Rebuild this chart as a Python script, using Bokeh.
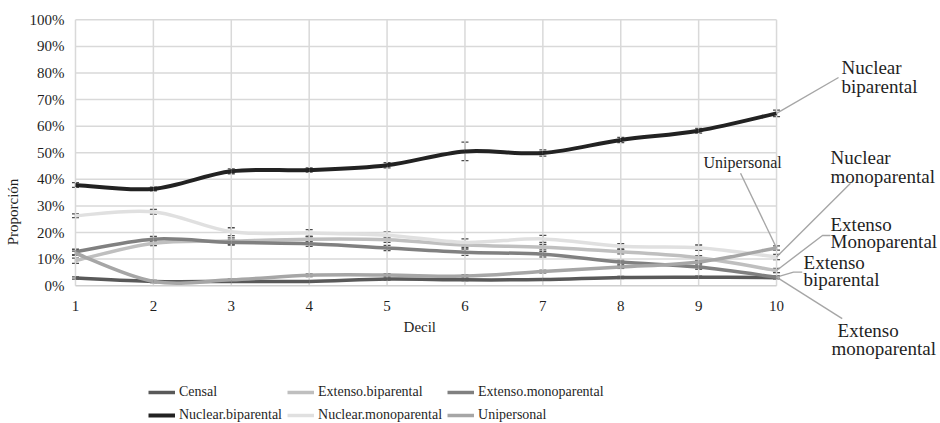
from bokeh.plotting import figure
from bokeh.models import (ColumnDataSource, Whisker, TeeHead, Legend, LegendItem,
                          FixedTicker, PrintfTickFormatter, Range1d)
from bokeh.embed import file_html
from bokeh.resources import INLINE

# ---- data: share of household type (%) by income decile, with error margins ----
deciles = [1, 2, 3, 4, 5, 6, 7, 8, 9, 10]
censal = [2.9, 1.6, 1.6, 1.6, 2.5, 2.2, 2.3, 3.1, 3.2, 3.0]
extenso_biparental = [9.4, 16.0, 16.8, 17.5, 17.3, 15.3, 14.5, 12.8, 10.5, 5.7]
extenso_monoparental = [12.7, 17.5, 16.3, 15.8, 14.2, 12.6, 11.8, 8.9, 7.0, 3.2]
nuclear_biparental = [37.9, 36.4, 43.0, 43.5, 45.3, 50.5, 49.9, 54.8, 58.3, 64.8]
nuclear_monoparental = [26.3, 27.8, 20.3, 19.8, 19.0, 16.3, 17.6, 14.8, 14.3, 10.8]
unipersonal = [12.2, 1.6, 2.2, 3.9, 4.0, 3.6, 5.3, 7.0, 8.9, 14.2]

censal_err = [0.4, 0.3, 0.3, 0.3, 0.4, 0.3, 0.3, 0.4, 0.4, 0.4]
extenso_biparental_err = [1.0, 0.9, 1.2, 1.0, 1.0, 1.0, 1.0, 0.8, 0.8, 0.8]
extenso_monoparental_err = [1.0, 1.0, 1.0, 1.0, 1.0, 1.2, 1.0, 0.8, 0.8, 0.5]
nuclear_biparental_err = [0.9, 0.7, 0.9, 0.8, 1.0, 3.5, 1.2, 1.0, 0.9, 1.2]
nuclear_monoparental_err = [0.7, 0.9, 1.5, 1.3, 1.2, 1.3, 1.3, 1.0, 1.0, 1.0]
unipersonal_err = [0.8, 0.4, 0.4, 0.5, 0.5, 0.5, 0.5, 0.5, 0.5, 0.8]

y_ticks = [0, 10, 20, 30, 40, 50, 60, 70, 80, 90, 100]

series = [
    ("Censal", censal, censal_err, "#595959", 3.5),
    ("Extenso.biparental", extenso_biparental, extenso_biparental_err, "#bfbfbf", 3.5),
    ("Extenso.monoparental", extenso_monoparental, extenso_monoparental_err, "#808080", 3.5),
    ("Nuclear.biparental", nuclear_biparental, nuclear_biparental_err, "#222222", 4),
    ("Nuclear.monoparental", nuclear_monoparental, nuclear_monoparental_err, "#e0e0e0", 3.5),
    ("Unipersonal", unipersonal, unipersonal_err, "#a6a6a6", 3.5),
]

SERIF = "Liberation Serif"
TEXT = "#1f1f1f"
GRID = "#d9d9d9"


def smooth_segments(xs, ys):
    """Cubic Bezier pieces (Catmull-Rom style) through the data points."""
    n = len(xs)
    out = dict(x0=[], y0=[], x1=[], y1=[], cx0=[], cy0=[], cx1=[], cy1=[])
    for i in range(n - 1):
        xp, yp = (xs[i - 1], ys[i - 1]) if i > 0 else (xs[i], ys[i])
        xn, yn = (xs[i + 2], ys[i + 2]) if i + 2 < n else (xs[i + 1], ys[i + 1])
        out["x0"].append(xs[i]); out["y0"].append(ys[i])
        out["x1"].append(xs[i + 1]); out["y1"].append(ys[i + 1])
        out["cx0"].append(xs[i] + (xs[i + 1] - xp) / 6)
        out["cy0"].append(ys[i] + (ys[i + 1] - yp) / 6)
        out["cx1"].append(xs[i + 1] - (xn - xs[i]) / 6)
        out["cy1"].append(ys[i + 1] - (yn - ys[i]) / 6)
    return out


p = figure(width=940, height=423, output_backend="svg", toolbar_location=None,
           x_range=Range1d(0.923, 12.105), y_range=Range1d(-51.83, 107.26),
           x_axis_location=None, min_border=0, min_border_left=69)
p.outline_line_color = None
p.grid.visible = False
p.background_fill_color = "white"
p.border_fill_color = "white"

# y axis
ya = p.yaxis[0]
ya.ticker = FixedTicker(ticks=y_ticks)
ya.formatter = PrintfTickFormatter(format="%d%%")
ya.bounds = (0, 100)
ya.axis_line_color = None
ya.major_tick_line_color = None
ya.minor_tick_line_color = None
ya.major_tick_in = 0
ya.major_tick_out = 0
ya.minor_tick_in = 0
ya.minor_tick_out = 0
ya.major_label_standoff = 5
ya.major_label_text_font = SERIF
ya.major_label_text_font_size = "15px"
ya.major_label_text_color = TEXT
ya.axis_label = "Proporción"
ya.axis_label_text_font = SERIF
ya.axis_label_text_font_size = "15px"
ya.axis_label_text_font_style = "normal"
ya.axis_label_text_color = TEXT
ya.axis_label_standoff = 6

# plot-area grid, limited to the decile span and 0-100 %
p.segment(x0=[deciles[0]] * (len(y_ticks) - 1), x1=[deciles[-1]] * (len(y_ticks) - 1),
          y0=y_ticks[1:], y1=y_ticks[1:], line_color=GRID, line_width=1.5)
p.segment(x0=deciles, x1=deciles, y0=[0] * len(deciles), y1=[100] * len(deciles),
          line_color=GRID, line_width=1.5)
p.segment(x0=[deciles[0]], x1=[deciles[-1]], y0=[0], y1=[0],
          line_color="#cfcfcf", line_width=1.5)

# x tick labels and title
p.text(x=deciles, y=[-7.8] * len(deciles), text=[str(d) for d in deciles],
       text_font={"value": SERIF}, text_font_size="15px",
       text_align="center", text_baseline="middle", text_color=TEXT)
p.text(x=[5.42], y=[-15.7], text=["Decil"], text_font={"value": SERIF},
       text_font_size="15px", text_align="center", text_baseline="middle",
       text_color=TEXT)

# series: smoothed lines plus error bars
legend_items = []
for name, vals, err, color, lw in series:
    src = ColumnDataSource(smooth_segments(deciles, vals))
    r = p.bezier(x0="x0", y0="y0", x1="x1", y1="y1", cx0="cx0", cy0="cy0",
                 cx1="cx1", cy1="cy1", source=src, line_color=color, line_width=lw)
    legend_items.append(LegendItem(label=name, renderers=[r]))
    esrc = ColumnDataSource(dict(x=deciles,
                                 lo=[v - e for v, e in zip(vals, err)],
                                 hi=[v + e for v, e in zip(vals, err)]))
    w = Whisker(base="x", lower="lo", upper="hi", source=esrc, dimension="height",
                line_color="#4d4d4d", line_width=1.3,
                upper_head=TeeHead(size=7, line_color="#4d4d4d", line_width=1.3),
                lower_head=TeeHead(size=7, line_color="#4d4d4d", line_width=1.3))
    p.add_layout(w)

# leader lines from series ends to their captions
lead_xs = [
    [10, 10.796],
    [10, 9.538],
    [10, 10.950],
    [10, 10.590, 10.693],
    [10, 10.218, 10.330],
    [10, 10.843],
]
lead_ys = [
    [nuclear_biparental[-1], 78.3],
    [unipersonal[-1], 42.3],
    [nuclear_monoparental[-1], 38.5],
    [extenso_biparental[-1], 18.9, 18.9],
    [extenso_monoparental[-1], 5.1, 5.1],
    [extenso_monoparental[-1], -12.4],
]
p.multi_line(xs=lead_xs, ys=lead_ys, line_color="#a6a6a6", line_width=1.4)

cap_src = ColumnDataSource(dict(
    x=[10.834, 10.834, 10.693, 10.693, 10.693, 10.693, 10.347, 10.347, 10.783, 10.706],
    y=[82.2, 75.0, 48.3, 41.1, 23.1, 16.7, 8.8, 2.4, -16.8, -23.6],
    t=["Nuclear", "biparental", "Nuclear", "monoparental", "Extenso", "Monoparental",
       "Extenso", "biparental", "Extenso", "monoparental"],
))
p.text(x="x", y="y", text="t", source=cap_src, text_font={"value": SERIF},
       text_font_size="19px", text_align="left", text_baseline="middle",
       text_color=TEXT)
p.text(x=[9.063], y=[46.4], text=["Unipersonal"], text_font={"value": SERIF},
       text_font_size="16px", text_align="left", text_baseline="middle",
       text_color=TEXT)

legend = Legend(items=legend_items, orientation="horizontal", ncols=3,
                location=(79, -1), padding=0, margin=0, spacing=5,
                border_line_color=None, background_fill_alpha=0,
                glyph_width=27, glyph_height=18, label_height=18, label_standoff=4,
                label_text_font=SERIF, label_text_font_size="14px",
                label_text_color=TEXT)
p.add_layout(legend)

open("out.html", "w").write(file_html(p, INLINE))
